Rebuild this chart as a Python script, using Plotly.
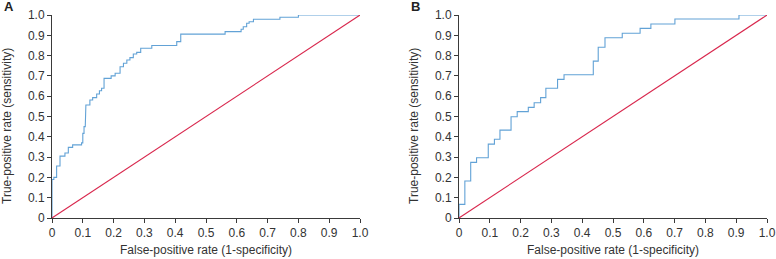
import plotly.graph_objects as go

# Panel A ROC curve (step points: fpr, tpr)
a_fpr = [0, 0, 0.006, 0.006, 0.015, 0.015, 0.026, 0.026, 0.042, 0.042, 0.053, 0.053, 0.067, 0.067,
         0.096, 0.096, 0.100, 0.100, 0.104, 0.104, 0.108, 0.108, 0.110, 0.110, 0.123, 0.123,
         0.132, 0.132, 0.145, 0.145, 0.154, 0.154, 0.161, 0.161, 0.169, 0.169, 0.192, 0.192,
         0.205, 0.205, 0.221, 0.221, 0.232, 0.232, 0.243, 0.243, 0.253, 0.253, 0.264, 0.264,
         0.275, 0.275, 0.288, 0.288, 0.324, 0.324, 0.405, 0.405, 0.418, 0.418, 0.562, 0.562,
         0.614, 0.614, 0.621, 0.621, 0.632, 0.632, 0.640, 0.640, 0.654, 0.654, 0.740, 0.740,
         0.800, 0.800, 1.0]
a_tpr = [0, 0.19, 0.19, 0.20, 0.20, 0.256, 0.256, 0.305, 0.305, 0.32, 0.32, 0.348, 0.348, 0.36,
         0.36, 0.37, 0.37, 0.417, 0.417, 0.45, 0.45, 0.47, 0.47, 0.557, 0.557, 0.581,
         0.581, 0.593, 0.593, 0.611, 0.611, 0.627, 0.627, 0.639, 0.639, 0.688, 0.688, 0.70,
         0.70, 0.713, 0.713, 0.745, 0.745, 0.762, 0.762, 0.778, 0.778, 0.79, 0.79, 0.808,
         0.808, 0.816, 0.816, 0.836, 0.836, 0.85, 0.85, 0.869, 0.869, 0.906, 0.906, 0.918,
         0.918, 0.93, 0.93, 0.942, 0.942, 0.959, 0.959, 0.967, 0.967, 0.979, 0.979, 0.989,
         0.989, 1.0, 1.0]

# Panel B ROC curve
b_fpr = [0, 0, 0.019, 0.019, 0.038, 0.038, 0.057, 0.057, 0.095, 0.095, 0.115, 0.115, 0.133, 0.133,
         0.169, 0.169, 0.189, 0.189, 0.225, 0.225, 0.244, 0.244, 0.265, 0.265, 0.282, 0.282,
         0.320, 0.320, 0.341, 0.341, 0.436, 0.436, 0.452, 0.452, 0.474, 0.474, 0.530, 0.530,
         0.588, 0.588, 0.623, 0.623, 0.701, 0.701, 0.909, 0.909, 1.0]
b_tpr = [0, 0.067, 0.067, 0.182, 0.182, 0.274, 0.274, 0.297, 0.297, 0.364, 0.364, 0.388, 0.388, 0.433,
         0.433, 0.499, 0.499, 0.524, 0.524, 0.545, 0.545, 0.568, 0.568, 0.593, 0.593, 0.639,
         0.639, 0.683, 0.683, 0.706, 0.706, 0.773, 0.773, 0.841, 0.841, 0.888, 0.888, 0.91,
         0.91, 0.934, 0.934, 0.956, 0.956, 0.98, 0.98, 1.0, 1.0]

diag = [0, 1]
tick_vals = [0, 0.1, 0.2, 0.3, 0.4, 0.5, 0.6, 0.7, 0.8, 0.9, 1.0]
tick_text = ["0", "0.1", "0.2", "0.3", "0.4", "0.5", "0.6", "0.7", "0.8", "0.9", "1.0"]
panel_labels = ["A", "B"]
x_title = "False-positive rate (1-specificity)"
y_title = "True-positive rate (sensitivity)"

W, H = 776, 259
blue = "#62a2d6"
red = "#d8264c"
axis_col = "#3a3a3a"
font_fam = "Liberation Sans, Arial, sans-serif"

fig = go.Figure()
for i, (fx, fy) in enumerate([(a_fpr, a_tpr), (b_fpr, b_tpr)]):
    xa = "x" if i == 0 else "x2"
    ya = "y" if i == 0 else "y2"
    fig.add_trace(go.Scatter(x=fx, y=fy, mode="lines", line=dict(color=blue, width=1.1),
                             xaxis=xa, yaxis=ya, showlegend=False))
    fig.add_trace(go.Scatter(x=diag, y=diag, mode="lines", line=dict(color=red, width=1.1),
                             xaxis=xa, yaxis=ya, showlegend=False))

x_left = [52, 459]
x_right = [360, 767]
y_top, y_bot = 15, 218
dom_y = [1 - y_bot / H, 1 - y_top / H]

ax_common = dict(range=[0, 1], tickvals=tick_vals, ticktext=tick_text, showgrid=False,
                 zeroline=False, showline=True, linecolor=axis_col, linewidth=1,
                 ticks="outside", ticklen=4, tickcolor=axis_col, tickwidth=1, automargin=False,
                 tickfont=dict(family=font_fam, size=12, color="#333333"), fixedrange=True)

fig.update_layout(
    width=W, height=H, margin=dict(l=0, r=0, t=0, b=0, pad=0), autosize=False,
    paper_bgcolor="white", plot_bgcolor="white",
    xaxis=dict(domain=[x_left[0] / W, x_right[0] / W], anchor="y", **ax_common),
    yaxis=dict(domain=dom_y, anchor="x", **ax_common),
    xaxis2=dict(domain=[x_left[1] / W, x_right[1] / W], anchor="y2", **ax_common),
    yaxis2=dict(domain=dom_y, anchor="x2", **ax_common),
)

annos = []
for i in range(2):
    cx = (x_left[i] + x_right[i]) / 2
    annos.append(dict(text=x_title, x=cx / W, y=1 - 250 / H, xref="paper", yref="paper",
                      showarrow=False, xanchor="center", yanchor="middle",
                      font=dict(family=font_fam, size=12, color="#333333")))
    annos.append(dict(text=y_title, x=(x_left[i] - 45) / W, y=1 - 126 / H, xref="paper", yref="paper",
                      showarrow=False, xanchor="center", yanchor="middle", textangle=-90,
                      font=dict(family=font_fam, size=12, color="#333333")))
    annos.append(dict(text="<b>" + panel_labels[i] + "</b>", x=(x_left[i] - 50) / W, y=1 - 7 / H,
                      xref="paper", yref="paper", showarrow=False, xanchor="left", yanchor="middle",
                      font=dict(family=font_fam, size=13, color="#222222")))
fig.update_layout(annotations=annos)

fig.write_html("out.html", config={"displayModeBar": False},
               post_script="document.body.style.margin='0';document.body.style.overflow='hidden';")
